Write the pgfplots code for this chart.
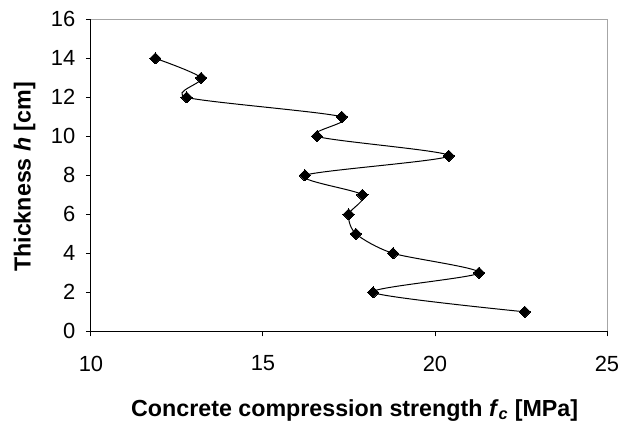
\documentclass[border=0pt]{standalone}
\usepackage{fontspec}
\setmainfont{Liberation Sans}
\usepackage{pgfplots}
\pgfplotsset{compat=1.18}

\begin{document}
\begin{tikzpicture}
\begin{axis}[
    scale only axis,
    width=387bp, height=234bp,
    xmin=10, xmax=25, ymin=0, ymax=16,
    xtick={10,15,20,25}, ytick={0,2,...,16},
    axis x line*=bottom, axis y line*=left,
    axis line style={black, line width=0.75bp, -},
    tick align=outside, major tick length=3.75bp,
    tick style={black, line width=0.75bp},
    /pgf/number format/assume math mode=true,
    ticklabel style={font=\fontsize{16.5}{19}\selectfont},
    xticklabel style={yshift=-11bp},
    yticklabel style={xshift=-4.5bp},
    every axis x label/.style={at={(axis description cs:0.511,-0.272)}, anchor=base},
    every axis y label/.style={at={(axis description cs:-0.117,0.495)}, rotate=90, anchor=base},
    xlabel={\fontsize{17.5}{20}\selectfont\bfseries Concrete compression strength \textit{f}\textsubscript{\textit{c}} [MPa]},
    ylabel={\fontsize{17.5}{20}\selectfont\bfseries Thickness \textit{h} [cm]},
    clip=false,
]
\draw[gray!70, line width=0.75bp] (rel axis cs:0,1) -- (rel axis cs:1,1) -- (rel axis cs:1,0);
\addplot[black, line width=0.75bp, smooth, tension=0.45,
    mark=square*, mark size=3bp, mark options={solid, fill=black, rotate=45, line width=0pt}]
coordinates {
(11.87,14) (13.20,13) (12.78,12) (17.29,11) (16.57,10) (20.40,9) (16.22,8)
(17.89,7) (17.49,6) (17.70,5) (18.78,4) (21.28,3) (18.20,2) (22.61,1)
};
\end{axis}
\pgfresetboundingbox
\path[use as bounding box] (-68.25bp,-68.6bp) rectangle (403.5bp,248.5bp);
\end{tikzpicture}
\end{document}
